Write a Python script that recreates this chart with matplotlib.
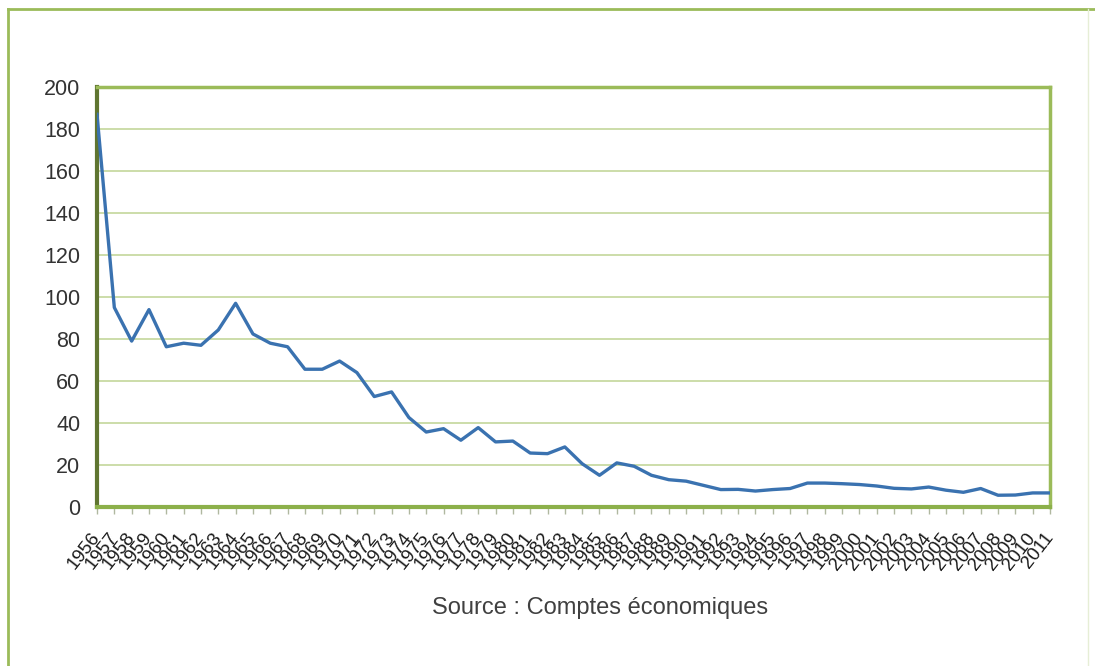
import matplotlib
matplotlib.use('Agg')
import matplotlib.pyplot as plt
from matplotlib.lines import Line2D

plt.rcParams['font.family'] = ['Liberation Sans', 'DejaVu Sans']

# données (1956-2011)
annees = list(range(1956, 2012))
valeurs = [187, 95, 79, 94, 76.3, 78, 77, 84.3, 97, 82.4,
           78, 76.3, 65.6, 65.6, 69.5, 64, 52.6, 54.8, 42.6, 35.7,
           37.3, 31.8, 37.8, 31, 31.4, 25.7, 25.4, 28.6, 20.6, 15.1,
           21, 19.4, 15.1, 13, 12.3, 10.3, 8.3, 8.4, 7.6, 8.3,
           8.8, 11.4, 11.4, 11.1, 10.7, 10, 8.9, 8.6, 9.5, 8,
           7, 8.8, 5.6, 5.7, 6.7, 6.7]
yticks = [0, 20, 40, 60, 80, 100, 120, 140, 160, 180, 200]
source = "Source : Comptes économiques"

fig = plt.figure(figsize=(10.95, 6.66), dpi=100)
ax = fig.add_axes([97 / 1095, 1 - 507 / 666, 953 / 1095, 420 / 666])

x = list(range(len(annees)))
ax.plot(x, valeurs, color='#3a72b0', linewidth=2.4, solid_joinstyle='round', zorder=3)

ax.set_xlim(0, len(annees) - 1)
ax.set_ylim(0, 200)
ax.set_yticks(yticks)
ax.set_yticklabels([str(v) for v in yticks], fontsize=15.5, color='#333333')
ax.set_xticks(x)
ax.set_xticklabels([str(a) for a in annees], rotation=52, ha='right', va='center',
                   rotation_mode='anchor', fontsize=13.5, color='#1a1a1a')

ax.grid(axis='y', color='#c4d79b', linewidth=1.2)
ax.set_axisbelow(True)
ax.tick_params(axis='y', length=0, pad=12)
ax.tick_params(axis='x', length=5, width=1, color='#b0b8a0', pad=15)

ax.spines['left'].set_color('#5f7530')
ax.spines['left'].set_linewidth(3)
ax.spines['bottom'].set_color('#8cb04a')
ax.spines['bottom'].set_linewidth(3)
ax.spines['top'].set_color('#9bbb59')
ax.spines['top'].set_linewidth(2.5)
ax.spines['right'].set_color('#9bbb59')
ax.spines['right'].set_linewidth(2.5)

fig.text(600 / 1095, 1 - 608 / 666, source, ha='center', va='center',
         fontsize=17, color='#404040')

# cadre vert autour du graphique (haut et gauche)
fig.add_artist(Line2D([8 / 1095, 1], [1 - 9 / 666, 1 - 9 / 666],
                      transform=fig.transFigure, color='#9bbb59', linewidth=2))
fig.add_artist(Line2D([8 / 1095, 8 / 1095], [0, 1 - 9 / 666],
                      transform=fig.transFigure, color='#9bbb59', linewidth=2))
fig.add_artist(Line2D([1088 / 1095, 1088 / 1095], [0, 1 - 9 / 666],
                      transform=fig.transFigure, color='#e6eed6', linewidth=1))

fig.savefig('out.png', dpi=100)
